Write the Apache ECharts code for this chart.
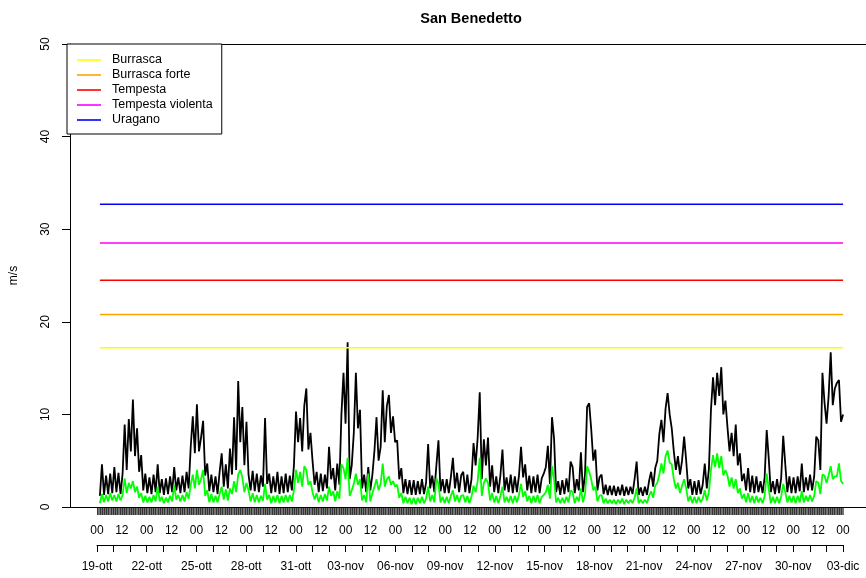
<!DOCTYPE html>
<html>
<head>
<meta charset="utf-8">
<script src="https://cdn.jsdelivr.net/npm/echarts@6/dist/echarts.min.js"></script>
<style>
  html, body { margin: 0; padding: 0; background: #fff; }
  #chart { width: 866px; height: 578px; }
</style>
</head>
<body>
<div id="chart"></div>
<script>
// one value every 3 hours, from 19-ott 00 to 03-dic 00 (one row per day)
const stepHours = 3;

const gust = [
  1.2, 4.6, 1.3, 3.4, 1.4, 3.6, 1.5, 4.3,
  1.6, 3.7, 1.4, 3.6, 8.9, 4.0, 9.5, 6.0,
  11.6, 5.5, 8.5, 3.8, 5.6, 1.8, 3.6, 1.5,
  3.2, 1.4, 3.5, 1.6, 4.6, 1.5, 3.0, 1.3,
  3.1, 1.4, 3.3, 1.6, 4.3, 1.8, 3.2, 1.5,
  3.4, 1.6, 3.8, 2.0, 6.5, 9.8, 5.8, 11.1,
  6.0, 7.5, 9.3, 3.4, 4.7, 1.7, 3.5, 1.6,
  3.3, 1.4, 3.8, 5.8, 2.2, 4.6, 2.0, 6.3,
  3.5, 9.7, 4.0, 13.6, 7.0, 10.8, 4.5, 9.2,
  3.5, 1.8, 3.9, 1.7, 3.6, 1.6, 3.4, 2.2,
  9.6, 2.5, 3.6, 1.5, 3.3, 1.6, 3.8, 1.4,
  3.3, 1.5, 3.6, 1.6, 3.4, 1.8, 4.5, 10.3,
  7.0, 9.6, 6.0, 10.9, 12.8, 6.2, 8.0, 5.0,
  2.4, 3.8, 1.6, 3.6, 1.7, 3.5, 2.0, 6.5,
  3.0, 4.2, 1.8, 4.7, 2.4, 10.0, 14.5, 9.0,
  17.8, 3.0, 4.5, 8.0, 14.5, 8.5, 10.5, 2.0,
  3.5, 1.6, 4.3, 1.8, 3.5, 6.1, 9.7, 5.0,
  6.5, 12.6, 7.0, 10.9, 12.1, 8.0, 9.8, 7.0,
  7.2, 3.0, 4.2, 1.5, 3.0, 1.4, 2.9, 1.3,
  2.9, 1.3, 2.8, 1.4, 3.0, 1.4, 2.6, 6.8,
  2.0, 3.4, 1.6, 4.5, 7.2, 1.7, 3.0, 1.5,
  3.0, 1.5, 3.2, 5.3, 2.0, 3.7, 1.6, 3.4,
  3.8, 1.6, 3.5, 1.5, 3.0, 6.9, 4.5, 7.5,
  12.4, 3.0, 7.3, 4.5, 7.5, 2.2, 4.5, 1.6,
  3.3, 1.5, 3.4, 6.2, 1.8, 3.2, 1.6, 3.5,
  1.5, 3.3, 1.6, 3.4, 6.5, 3.2, 4.6, 1.8,
  3.4, 1.5, 3.3, 1.6, 3.5, 1.5, 3.1, 3.6,
  4.3, 6.6, 2.5, 9.7, 7.4, 1.6, 2.8, 1.3,
  2.9, 1.4, 3.1, 1.6, 4.9, 4.3, 1.5, 3.0,
  1.8, 5.9, 1.6, 3.5, 10.8, 11.2, 8.4, 5.0,
  6.2, 1.8, 3.2, 3.5, 1.4, 2.4, 1.3, 2.3,
  1.3, 2.3, 1.2, 2.2, 1.3, 2.4, 1.2, 2.2,
  1.3, 2.2, 1.4, 3.0, 4.9, 1.3, 2.1, 1.2,
  2.2, 1.3, 2.8, 3.8, 2.2, 4.2, 5.0, 7.9,
  9.4, 7.0, 10.6, 12.3, 10.0, 8.5, 6.0, 4.0,
  5.5, 3.5, 5.0, 7.6, 5.0, 2.0, 3.0, 1.3,
  2.8, 1.3, 2.9, 1.4, 2.4, 4.7, 2.0, 4.1,
  10.5, 14.0, 11.0, 14.5, 12.0, 15.1, 10.0, 11.5,
  8.6, 6.0, 8.0, 5.5, 8.9, 4.5, 5.8, 2.8,
  3.6, 1.8, 4.2, 1.6, 3.4, 1.5, 3.3, 1.6,
  2.8, 1.5, 3.2, 8.3, 5.2, 1.6, 2.8, 1.4,
  3.0, 1.5, 3.1, 7.7, 4.6, 1.6, 3.3, 1.5,
  3.2, 1.5, 3.3, 1.7, 4.7, 1.6, 3.2, 1.8,
  3.5, 1.8, 3.3, 7.6, 7.2, 4.0, 14.5, 11.3,
  9.0, 12.0, 16.7, 11.0, 12.8, 13.4, 13.7, 9.2,
  10.0
];

const mean = [
  0.4, 1.4, 0.5, 1.3, 0.6, 1.5, 0.7, 1.3,
  0.6, 1.4, 0.7, 1.3, 3.1, 1.5, 2.6, 2.0,
  2.8, 1.6, 2.2, 1.0, 1.5, 0.5, 1.2, 0.5,
  1.1, 0.5, 1.3, 0.6, 2.2, 0.6, 1.1, 0.4,
  1.0, 0.5, 1.2, 0.6, 2.4, 0.8, 1.3, 0.6,
  1.3, 0.6, 1.6, 0.9, 2.4, 3.5, 2.0, 4.0,
  2.4, 3.0, 4.0, 1.2, 1.8, 0.5, 1.4, 0.5,
  1.2, 0.5, 1.4, 2.2, 0.8, 1.9, 0.7, 2.0,
  1.4, 2.8, 1.6, 3.5, 4.0, 3.2, 1.6, 2.6,
  1.8, 0.6, 1.5, 0.5, 1.3, 0.5, 1.2, 0.7,
  2.5, 0.8, 1.3, 0.4, 1.2, 0.5, 1.3, 0.4,
  1.2, 0.5, 1.3, 0.5, 1.3, 0.6, 1.8, 4.0,
  2.6, 3.8, 2.2, 4.4, 4.0, 2.4, 2.8, 1.6,
  0.8, 1.5, 0.5, 1.3, 0.6, 1.4, 0.7, 2.2,
  1.2, 1.7, 0.6, 1.7, 0.9, 4.6, 4.2, 3.0,
  5.3, 1.2, 1.8, 2.5, 3.6, 2.4, 3.0, 0.7,
  1.3, 0.5, 3.6, 0.6, 1.5, 2.2, 3.0, 1.8,
  2.5, 4.7, 2.2, 3.0, 3.3, 2.4, 2.8, 2.2,
  2.4, 1.0, 1.5, 0.4, 1.1, 0.4, 1.0, 0.3,
  1.0, 0.3, 1.0, 0.4, 1.1, 0.4, 0.9, 2.2,
  0.6, 1.3, 0.5, 3.1, 2.5, 0.5, 1.1, 0.4,
  1.1, 0.4, 1.2, 1.8, 0.6, 1.3, 0.5, 1.2,
  1.3, 0.5, 1.2, 0.4, 1.1, 2.3, 1.6, 2.8,
  5.3, 1.2, 2.6, 3.1, 2.6, 0.7, 1.5, 0.5,
  1.2, 0.4, 1.2, 2.2, 0.5, 1.1, 0.5, 1.2,
  0.4, 1.2, 0.5, 1.3, 2.5, 1.1, 1.7, 0.6,
  1.2, 0.4, 1.2, 0.5, 1.3, 0.4, 1.1, 1.3,
  1.6, 2.4, 0.9, 4.4, 3.0, 0.5, 1.0, 0.4,
  1.0, 0.4, 1.1, 0.5, 1.8, 1.6, 0.4, 1.1,
  0.6, 2.0, 0.5, 1.4, 4.4, 3.8, 3.0, 1.8,
  2.2, 0.6, 1.2, 1.3, 0.4, 0.9, 0.4, 0.8,
  0.4, 0.8, 0.3, 0.8, 0.4, 0.9, 0.3, 0.8,
  0.4, 0.8, 0.4, 1.0, 2.0, 0.4, 0.8, 0.4,
  0.8, 0.4, 1.2, 1.7, 1.0, 2.3, 2.6, 3.5,
  4.7, 3.6, 5.5, 6.1, 4.8, 4.6, 3.0, 2.0,
  2.6, 1.5, 2.3, 3.0, 2.0, 0.6, 1.2, 0.4,
  1.1, 0.4, 1.1, 0.5, 0.9, 1.8, 0.7, 1.6,
  4.0, 5.6, 4.3, 5.8, 4.2, 5.5, 3.4, 4.0,
  3.4, 2.2, 3.2, 2.0, 3.0, 1.5, 2.0, 0.9,
  1.4, 0.5, 1.5, 0.5, 1.2, 0.4, 1.2, 0.5,
  1.0, 0.4, 1.2, 3.6, 1.9, 0.4, 1.1, 0.4,
  1.1, 0.4, 1.1, 2.5, 1.6, 0.5, 1.2, 0.5,
  1.2, 0.4, 1.2, 0.5, 1.7, 0.5, 1.2, 0.6,
  1.3, 0.6, 1.2, 2.8, 2.6, 1.4, 3.5, 3.4,
  2.6, 3.4, 4.4, 3.0, 3.3, 3.3, 4.7, 2.8,
  2.5
];

const levelNames = ['Burrasca', 'Burrasca forte', 'Tempesta', 'Tempesta violenta', 'Uragano'];
const levelValues = [17.2, 20.8, 24.5, 28.5, 32.7];
const levelColors = ['#ffff00', '#ffa500', '#ff0000', '#ff00ff', '#0000ff'];

const dateLabels = ['19-ott', '22-ott', '25-ott', '28-ott', '31-ott', '03-nov', '06-nov', '09-nov',
  '12-nov', '15-nov', '18-nov', '21-nov', '24-nov', '27-nov', '30-nov', '03-dic'];
const hourLabels = ['00', '12'];

const totalHours = 1080;
const pxPerHour = 746 / totalHours;
const font = 'Liberation Sans, Arial, sans-serif';
const xMin = -30 / pxPerHour;
const xMax = 769 / pxPerHour;

let chart = echarts.init(document.getElementById('chart'));

let series = [
  {
    name: 'raffica',
    type: 'line',
    xAxisIndex: 0, yAxisIndex: 0,
    data: gust.map((v, i) => [i * stepHours, v]),
    showSymbol: false,
    lineStyle: { color: '#000', width: 1.8 },
    silent: true
  },
  {
    name: 'media',
    type: 'line',
    xAxisIndex: 0, yAxisIndex: 0,
    data: mean.map((v, i) => [i * stepHours, v]),
    showSymbol: false,
    lineStyle: { color: '#00ff00', width: 1.8 },
    silent: true
  }
];
levelNames.forEach((name, k) => {
  series.push({
    name: name,
    type: 'line',
    xAxisIndex: 0, yAxisIndex: 0,
    data: [[0, levelValues[k]], [totalHours, levelValues[k]]],
    symbol: 'none',
    color: levelColors[k],
    lineStyle: { color: levelColors[k], width: 1.5 },
    silent: true
  });
});
// empty series so the helper axes are drawn
series.push({ type: 'line', xAxisIndex: 1, yAxisIndex: 1, data: [] });
series.push({ type: 'line', xAxisIndex: 2, yAxisIndex: 2, data: [] });
series.push({ type: 'line', xAxisIndex: 3, yAxisIndex: 0, data: [] });

let options = {
  animation: false,
  backgroundColor: '#fff',
  textStyle: { fontFamily: font },
  title: {
    text: 'San Benedetto',
    left: 466, top: 6,
    textAlign: 'center',
    textStyle: { fontFamily: font, fontWeight: 'bold', fontSize: 14.5, color: '#000' }
  },
  legend: {
    data: levelNames,
    orient: 'vertical',
    left: 67, top: 44,
    icon: 'path://M0,0 L24,0 L24,1.6 L0,1.6 Z',
    itemWidth: 24, itemHeight: 14, itemGap: 1,
    padding: [9, 9, 7, 10],
    borderColor: '#000', borderWidth: 1,
    backgroundColor: '#fff',
    selectedMode: false,
    textStyle: { fontFamily: font, fontSize: 12.5, color: '#000', padding: [0, 0, 0, 6], lineHeight: 14 }
  },
  grid: [
    { left: 67, right: 0, top: 44, bottom: 71 },
    { left: 97, right: 23, top: 506, height: 1 },
    { left: 97, right: 23, top: 544, height: 1 }
  ],
  xAxis: [
    {
      gridIndex: 0, type: 'value', position: 'bottom',
      min: xMin, max: xMax,
      axisLine: { show: true, onZero: false, lineStyle: { color: '#000', width: 1 } },
      axisTick: { show: false }, axisLabel: { show: false }, splitLine: { show: false }
    },
    {
      gridIndex: 1, type: 'value',
      min: 0, max: totalHours, interval: 1,
      axisLine: { show: false },
      axisTick: { show: true, length: 8, lineStyle: { color: '#000', width: 0.55 } },
      splitLine: { show: false },
      axisLabel: {
        margin: 18, fontSize: 12, color: '#000', fontFamily: font,
        formatter: v => (v % 36 === 0 ? hourLabels[(v / 12) % 2] : '')
      }
    },
    {
      gridIndex: 2, type: 'value',
      min: 0, max: 45, interval: 1,
      axisLine: { show: true, lineStyle: { color: '#000', width: 1 } },
      axisTick: { show: true, length: 7, lineStyle: { color: '#000', width: 1 } },
      splitLine: { show: false },
      axisLabel: {
        margin: 16, fontSize: 12, color: '#000', fontFamily: font,
        formatter: v => (v % 3 === 0 ? dateLabels[v / 3] : '')
      }
    },
    {
      gridIndex: 0, type: 'value', position: 'top',
      min: xMin, max: xMax,
      axisLine: { show: true, onZero: false, lineStyle: { color: '#000', width: 1 } },
      axisTick: { show: false }, axisLabel: { show: false }, splitLine: { show: false }
    }
  ],
  yAxis: [
    {
      gridIndex: 0, type: 'value',
      min: 0, max: 50, interval: 10,
      name: 'm/s', nameLocation: 'middle', nameGap: 50, nameRotate: 90,
      nameTextStyle: { fontFamily: font, fontSize: 12, color: '#000' },
      axisLine: { show: true, onZero: false, lineStyle: { color: '#000', width: 1 } },
      axisTick: { show: true, length: 8, lineStyle: { color: '#000', width: 1 } },
      splitLine: { show: false },
      axisLabel: { rotate: 90, margin: 18, fontSize: 12, color: '#000', fontFamily: font }
    },
    { gridIndex: 1, type: 'value', show: false },
    { gridIndex: 2, type: 'value', show: false }
  ],
  series: series
};

chart.setOption(options);
</script>
</body>
</html>
